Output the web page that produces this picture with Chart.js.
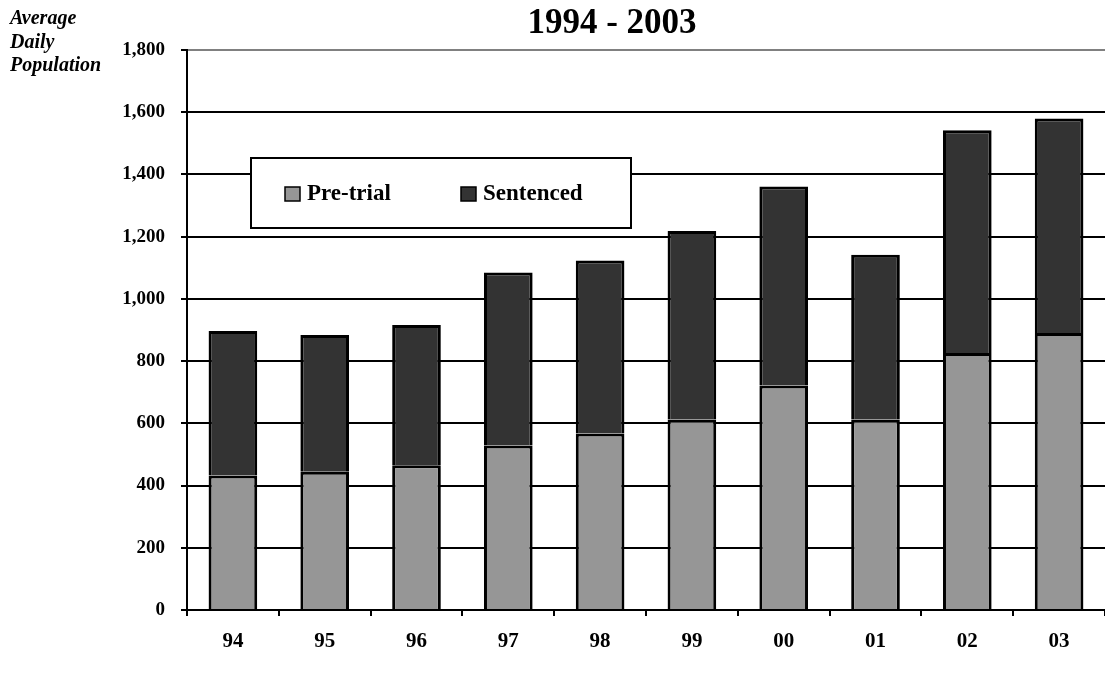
<!DOCTYPE html>
<html>
<head>
<meta charset="utf-8">
<script src="https://cdn.jsdelivr.net/npm/chart.js@4/dist/chart.umd.min.js"></script>
<style>
  html, body { margin: 0; padding: 0; background: #fff; }
  #wrap { width: 1105px; height: 676px; position: relative; }
</style>
</head>
<body>
<div id="wrap"><canvas id="c" width="1105" height="676"></canvas></div>
<script>
const categories = ['94', '95', '96', '97', '98', '99', '00', '01', '02', '03'];
const preTrial   = [432, 444, 465, 529, 567, 612, 722, 612, 826, 890];
const sentenced  = [465, 440, 451, 556, 556, 606, 639, 530, 716, 690];
const seriesNames = ['Pre-trial', 'Sentenced'];
const titleText = '1994 - 2003';
const yTitleLines = ['Average', 'Daily', 'Population'];
const yMin = 0, yMax = 1800, yStep = 200;

const SERIF = "'Liberation Serif', 'Times New Roman', serif";

const overlayPlugin = {
  id: 'overlay',
  afterDraw(chart) {
    const ctx = chart.ctx;
    ctx.save();
    ctx.fillStyle = '#000';
    ctx.font = 'bold 35px ' + SERIF;
    ctx.textAlign = 'center';
    ctx.textBaseline = 'alphabetic';
    ctx.fillText(titleText, 612, 33);
    ctx.font = 'italic bold 20px ' + SERIF;
    ctx.textAlign = 'left';
    yTitleLines.forEach((t, i) => ctx.fillText(t, 10, 24 + i * 23.5));
    const bx = 251, by = 158, bw = 380, bh = 70;
    ctx.fillStyle = '#fff';
    ctx.fillRect(bx, by, bw, bh);
    ctx.lineWidth = 2;
    ctx.strokeStyle = '#000';
    ctx.strokeRect(bx, by, bw, bh);
    const items = chart.data.datasets;
    const xs = [285, 461];
    ctx.font = 'bold 23px ' + SERIF;
    items.forEach((ds, i) => {
      const x = xs[i];
      ctx.fillStyle = ds.backgroundColor;
      ctx.fillRect(x, 187, 15, 14);
      ctx.lineWidth = 1.5;
      ctx.strokeStyle = '#000';
      ctx.strokeRect(x, 187, 15, 14);
      ctx.fillStyle = '#000';
      ctx.textAlign = 'left';
      ctx.fillText(ds.label, x + 22, 200);
    });
    ctx.restore();
  }
};

new Chart(document.getElementById('c'), {
  type: 'bar',
  data: {
    labels: categories,
    datasets: [
      {
        label: seriesNames[0],
        data: preTrial,
        backgroundColor: '#969696',
        borderColor: '#000',
        borderWidth: 3,
        borderSkipped: 'start',
        inflateAmount: 0,
        barPercentage: 0.53,
        categoryPercentage: 1
      },
      {
        label: seriesNames[1],
        data: sentenced,
        backgroundColor: '#333333',
        borderColor: '#000',
        borderWidth: 3,
        borderSkipped: 'start',
        inflateAmount: 0,
        barPercentage: 0.53,
        categoryPercentage: 1
      }
    ]
  },
  options: {
    responsive: false,
    animation: false,
    layout: { padding: { top: 50, right: 0, left: 0, bottom: 0 } },
    plugins: {
      legend: { display: false },
      title: { display: false },
      tooltip: { enabled: false }
    },
    scales: {
      x: {
        stacked: true,
        afterFit(scale) { scale.height = 66; },
        border: { display: true, color: '#000', width: 2 },
        grid: {
          display: true,
          offset: true,
          drawOnChartArea: false,
          drawTicks: true,
          tickLength: 6,
          color: '#000',
          lineWidth: 2
        },
        ticks: {
          color: '#000',
          font: { family: SERIF, size: 21, weight: 'bold' },
          padding: 13,
          maxRotation: 0
        }
      },
      y: {
        stacked: true,
        min: yMin,
        max: yMax,
        afterFit(scale) { scale.width = 187; },
        border: { display: true, color: '#000', width: 2 },
        grid: {
          drawTicks: true,
          tickLength: 6,
          tickColor: '#000',
          color: (c) => (c.tick && c.tick.value === yMax) ? '#808080' : '#000',
          lineWidth: 2
        },
        ticks: {
          stepSize: yStep,
          color: '#000',
          padding: 16,
          font: { family: SERIF, size: 19, weight: 'bold' },
          callback: (v) => Number(v).toLocaleString('en-US')
        }
      }
    }
  },
  plugins: [overlayPlugin]
});
</script>
</body>
</html>
